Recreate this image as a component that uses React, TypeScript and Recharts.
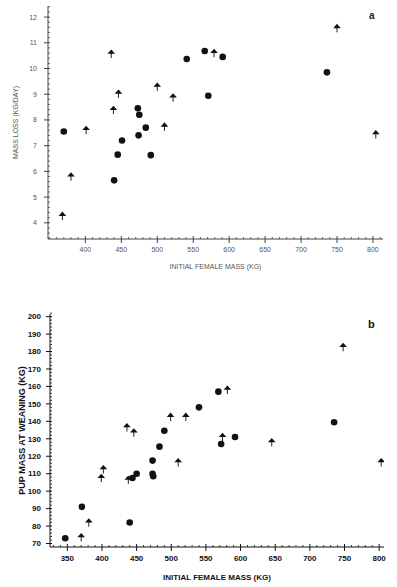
import React from 'react';
import { ScatterChart, Scatter, XAxis, YAxis, Label } from 'recharts';

// Panel a: mass loss (kg/day) vs initial female mass (kg)
const aCircleMass = [370, 451, 445, 440, 473, 475, 474, 484, 491, 541, 566, 591, 571, 736];
const aCircleLoss = [7.55, 7.2, 6.65, 5.65, 8.45, 8.2, 7.4, 7.7, 6.63, 10.37, 10.68, 10.45, 8.94, 9.85];
const aArrowMass = [368, 380, 401, 439, 436, 446, 500, 522, 510, 579, 750, 804];
const aArrowLoss = [4.3, 5.83, 7.64, 8.42, 10.6, 9.05, 9.32, 8.9, 7.77, 10.63, 11.6, 7.47];

// Panel b: pup mass at weaning (kg) vs initial female mass (kg)
const bCircleMass = [347, 371, 440, 444, 450, 473, 473, 474, 483, 490, 540, 568, 572, 592, 735];
const bCirclePup = [73, 91, 82, 107.5, 110, 117.5, 110, 108.5, 125.5, 134.6, 148, 157, 127, 131, 139.5];
const bArrowMass = [370, 381, 399, 402, 436, 446, 438, 499, 521, 510, 581, 574, 645, 748, 803];
const bArrowPup = [74, 82.5, 108, 113, 137, 134, 107, 143, 143, 117, 158.5, 131.5, 128.5, 183, 117];

// Major tick labels
const aXTicks = [400, 450, 500, 550, 600, 650, 700, 750, 800];
const aYTicks = [4, 5, 6, 7, 8, 9, 10, 11, 12];
const bXTicks = [350, 400, 450, 500, 550, 600, 650, 700, 750, 800];
const bYTicks = [70, 80, 90, 100, 110, 120, 130, 140, 150, 160, 170, 180, 190, 200];

// Minor tick positions (majors are included)
const aXAll = Array.from({ length: 47 }, (_, i) => 350 + i * 10);
const aYAll = Array.from({ length: 46 }, (_, i) => Math.round((3.4 + i * 0.2) * 10) / 10);
const bXAll = Array.from({ length: 48 }, (_, i) => 330 + i * 10);
const bYAll = Array.from({ length: 67 }, (_, i) => 70 + i * 2);

const zip = (xs: number[], ys: number[]) => xs.map((x, i) => ({ x, y: ys[i] }));
const isMajor = (v: number, majors: number[]) => majors.some((m) => Math.abs(m - v) < 1e-6);

const Dot = (props: any) => {
  const { cx, cy } = props;
  if (cx == null || cy == null) return null;
  return <circle cx={cx} cy={cy} r={3.3} fill="#111" />;
};

const Arrow = (props: any) => {
  const { cx, cy } = props;
  if (cx == null || cy == null) return null;
  return (
    <g>
      <line x1={cx} y1={cy} x2={cx} y2={cy + 5} stroke="#222" strokeWidth={1} />
      <polygon points={`${cx},${cy - 3.5} ${cx - 3.8},${cy + 0.8} ${cx + 3.8},${cy + 0.8}`} fill="#111" />
    </g>
  );
};

const fam = 'Liberation Sans, Arial, sans-serif';
const fontA = { fontSize: 7, fill: '#555', fontFamily: fam };
const fontB = { fontSize: 8, fill: '#111', fontFamily: fam, fontWeight: 'bold' as const };

const makeXTick = (majors: number[], font: any, stroke: string, gap: number) => (props: any) => {
  const { x, y, payload } = props;
  const major = isMajor(payload.value, majors);
  return (
    <g>
      {major ? (
        <>
          <line x1={x} x2={x} y1={y - 3} y2={y + 4} stroke={stroke} strokeWidth={1} />
          <text x={x} y={y + gap} dy="0.71em" textAnchor="middle" style={font}>
            {payload.value}
          </text>
        </>
      ) : (
        <line x1={x} x2={x} y1={y - 2} y2={y} stroke={stroke} strokeWidth={0.8} />
      )}
    </g>
  );
};

const makeYTick = (majors: number[], font: any, stroke: string, gap: number) => (props: any) => {
  const { x, y, payload } = props;
  const major = isMajor(payload.value, majors);
  return (
    <g>
      {major ? (
        <>
          <line x1={x - 4} x2={x + 2} y1={y} y2={y} stroke={stroke} strokeWidth={1} />
          <text x={x - gap} y={y} dy="0.35em" textAnchor="end" style={font}>
            {payload.value}
          </text>
        </>
      ) : (
        <line x1={x} x2={x + 2} y1={y} y2={y} stroke={stroke} strokeWidth={0.8} />
      )}
    </g>
  );
};

export default function App() {
  return (
    <div style={{ position: 'absolute', left: 0, top: 0, width: 397, height: 587, background: '#fff' }}>
      <div style={{ position: 'relative', width: 397, height: 290 }}>
        <ScatterChart width={397} height={290} margin={{ top: 6, right: 14, bottom: 21, left: 0 }}>
          <XAxis
            xAxisId="main"
            type="number"
            dataKey="x"
            domain={[348, 814]}
            ticks={aXAll}
            interval={0}
            allowDataOverflow
            height={30}
            tickSize={0}
            tickMargin={0}
            tickLine={false}
            tick={makeXTick(aXTicks, fontA, '#444', 8.5)}
            stroke="#444"
          >
            <Label value="INITIAL FEMALE MASS (KG)" position="insideBottom" offset={0} style={fontA} />
          </XAxis>
          <XAxis xAxisId="top" orientation="top" type="number" domain={[348, 814]} height={0} tick={false} tickLine={false} stroke="#444" />
          <YAxis
            yAxisId="main"
            type="number"
            dataKey="y"
            domain={[3.37, 12.43]}
            ticks={aYAll}
            interval={0}
            allowDataOverflow
            width={48}
            tickSize={0}
            tickMargin={0}
            tickLine={false}
            tick={makeYTick(aYTicks, fontA, '#444', 11)}
            stroke="#444"
          >
            <Label value="MASS LOSS (KG/DAY)" angle={-90} position="insideLeft" offset={16} style={{ ...fontA, textAnchor: 'middle' }} />
          </YAxis>
          <YAxis yAxisId="right" orientation="right" type="number" domain={[3.37, 12.43]} width={0} tick={false} tickLine={false} stroke="#444" />
          <Scatter xAxisId="main" yAxisId="main" data={zip(aCircleMass, aCircleLoss)} shape={Dot} isAnimationActive={false} />
          <Scatter xAxisId="main" yAxisId="main" data={zip(aArrowMass, aArrowLoss)} shape={Arrow} isAnimationActive={false} />
        </ScatterChart>
        <div style={{ position: 'absolute', left: 369, top: 10, fontSize: 10, fontWeight: 'bold', fontFamily: fam, color: '#222' }}>a</div>
      </div>
      <div style={{ position: 'relative', width: 397, height: 297 }}>
        <ScatterChart width={397} height={297} margin={{ top: 24, right: 13, bottom: 7, left: 0 }}>
          <XAxis
            xAxisId="main"
            type="number"
            dataKey="x"
            domain={[325, 807]}
            ticks={bXAll}
            interval={0}
            allowDataOverflow
            height={33}
            tickSize={0}
            tickMargin={0}
            tickLine={false}
            tick={makeXTick(bXTicks, fontB, '#111', 8)}
            stroke="#111"
          >
            <Label value="INITIAL FEMALE MASS  (KG)" position="insideBottom" offset={0} style={fontB} />
          </XAxis>
          <XAxis xAxisId="top" orientation="top" type="number" domain={[325, 807]} height={0} tick={false} tickLine={false} stroke="#333" />
          <YAxis
            yAxisId="main"
            type="number"
            dataKey="y"
            domain={[68, 201.5]}
            ticks={bYAll}
            interval={0}
            allowDataOverflow
            width={50}
            tickSize={0}
            tickMargin={0}
            tickLine={false}
            tick={makeYTick(bYTicks, fontB, '#111', 9)}
            stroke="#111"
          >
            <Label value="PUP MASS AT WEANING  (KG)" angle={-90} position="insideLeft" offset={22} style={{ ...fontB, fontSize: 9, textAnchor: 'middle' }} />
          </YAxis>
          <YAxis yAxisId="right" orientation="right" type="number" domain={[68, 201.5]} width={0} tick={false} tickLine={false} stroke="#333" />
          <Scatter xAxisId="main" yAxisId="main" data={zip(bCircleMass, bCirclePup)} shape={Dot} isAnimationActive={false} />
          <Scatter xAxisId="main" yAxisId="main" data={zip(bArrowMass, bArrowPup)} shape={Arrow} isAnimationActive={false} />
        </ScatterChart>
        <div style={{ position: 'absolute', left: 368, top: 28, fontSize: 11, fontWeight: 'bold', fontFamily: fam, color: '#111' }}>b</div>
      </div>
    </div>
  );
}
